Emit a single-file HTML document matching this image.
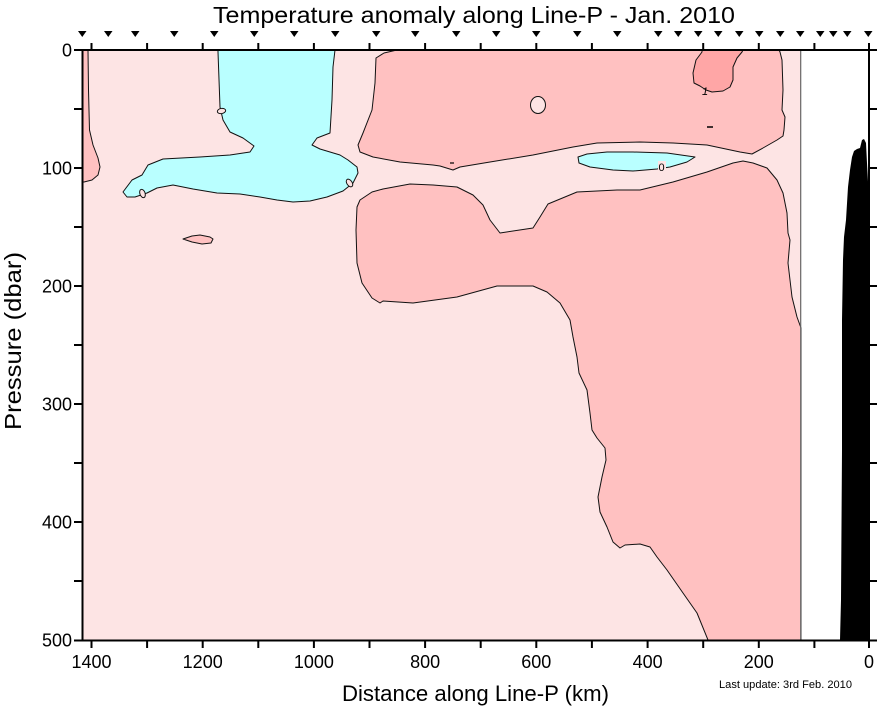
<!DOCTYPE html>
<html><head><meta charset="utf-8"><style>
html,body{margin:0;padding:0;background:#fff;}
svg{display:block;}
text{font-family:"Liberation Sans",Arial,sans-serif;fill:#000;}
</style></head><body>
<svg width="878" height="708" viewBox="0 0 878 708" xmlns="http://www.w3.org/2000/svg">
<!-- background field -->
<rect x="82" y="50" width="719" height="590" fill="#FDE4E4"/>
<rect x="801" y="50" width="68" height="590" fill="#FFFFFF"/>

<g stroke="#111" stroke-width="1" stroke-linejoin="round">
<!-- left strip -->
<polygon fill="#FFC1C1" points="82,50 88,50 88.5,90 89.5,130 93,145 98,158 100,167 98,175 92,180 84,182 82,182"/>
<!-- upper band -->
<polygon fill="#FFC1C1" points="397,50 779,50 780,52 782,60 783,90 782,110 785,117 784,130 783,136 777,140 763,148 752,154 740,152 707,145 673,143 640,142 597,143 573,147 533,155 490,162 460,167 453,170 440,166 433,165 400,162 373,157 360,152 358,145 363,133 372,110 375,83 376,58 384,53 397,50"/>
<!-- lower big region -->
<polygon fill="#FFC1C1" points="357,207 360,200 372,192 383,189 410,184 433,185 457,187 473,195 483,205 490,220 500,233 533,228 540,217 548,204 577,192 617,190 640,190 673,182 707,172 733,163 743,161 753,163 767,168 777,180 783,193 787,213 788,233 790,240 788,263 792,297 797,317 801,328 801,640 708,640 697,613 683,593 667,570 657,557 650,547 640,544 625,545 620,548 613,542 607,527 600,512 598,497 602,477 606,460 605,448 597,438 592,430 590,413 587,390 579,373 577,357 573,337 570,320 560,303 547,292 533,286 497,286 457,297 413,303 383,301 380,303 372,298 362,283 357,263 356,230"/>
<!-- small blob -->
<polygon fill="#FFC1C1" points="183,239 192,236 200,235 210,237 213,239 211,243 202,244 192,242"/>
<!-- dark pink blob -->
<polygon fill="#FFA6A6" points="702,50 702,52 696,60 693,73 694,83 700,86 706,90 712,92 723,91 730,87 733,80 733,67 737,58 742,52 743,50"/>
<!-- cyan big -->
<polygon fill="#B9FFFF" points="218,50 218,52 220,107 223,120 230,132 243,138 254,146 250,152 230,155 200,157 163,159 148,165 142,175 132,180 123,192 127,197 135,197 147,193 157,188 173,185 193,189 217,193 240,194 260,197 277,200 293,202 310,201 327,197 343,191 353,183 358,173 357,167 348,160 340,155 330,152 320,149 312,145 317,138 330,133 332,100 333,67 335,50"/>
<!-- cyan small -->
<polygon fill="#B9FFFF" points="578,157 587,154 607,152 633,152 667,153 695,157 687,162 670,167 657,169 633,171 613,170 590,167 579,163"/>
<!-- holes -->
<ellipse cx="538" cy="105" rx="7.5" ry="8.5" fill="#FDE4E4"/>
<ellipse cx="221.5" cy="111" rx="4.2" ry="2.6" fill="#FDE4E4" transform="rotate(-10 221.5 111)"/>
<ellipse cx="142.5" cy="193.5" rx="2.6" ry="4.3" fill="#FDE4E4" transform="rotate(-20 142.5 193.5)"/>
<ellipse cx="349.5" cy="183" rx="2.6" ry="4.3" fill="#FDE4E4" transform="rotate(-35 349.5 183)"/>
</g>
<!-- small dashes -->
<line x1="707" y1="127" x2="713" y2="127" stroke="#000" stroke-width="1.5"/>
<line x1="450" y1="163" x2="454" y2="163" stroke="#000" stroke-width="1.2"/>
<!-- contour labels -->
<text x="702" y="95" font-size="11" font-style="italic">1</text>
<rect x="658" y="161" width="8" height="11" fill="#FDE4E4"/>
<text x="658.5" y="171" font-size="11">0</text>

<!-- gray boundary line -->
<line x1="800.7" y1="50" x2="800.7" y2="640" stroke="#666" stroke-width="1.2"/>

<!-- bathymetry -->
<polygon fill="#000" points="840,640 841,600 842,450 842,320 843,260 844,237 846,220 848,187 850,170 852,157 854,151 857,149 860,148 862,140 864,139 866,143 867,163 869,200 869,640"/>

<!-- axes -->
<g stroke="#000" stroke-width="2" fill="none">
<line x1="82.5" y1="49" x2="82.5" y2="641"/>
<line x1="869" y1="49" x2="869" y2="641"/>
<line x1="74" y1="50" x2="877" y2="50"/>
<line x1="74" y1="640.5" x2="877" y2="640.5"/>
</g>
<g stroke="#000" stroke-width="2">
<!-- left & right ticks -->
<line x1="74" y1="109" x2="82" y2="109"/><line x1="74" y1="168" x2="82" y2="168"/>
<line x1="74" y1="227" x2="82" y2="227"/><line x1="74" y1="286" x2="82" y2="286"/>
<line x1="74" y1="345" x2="82" y2="345"/><line x1="74" y1="404" x2="82" y2="404"/>
<line x1="74" y1="463" x2="82" y2="463"/><line x1="74" y1="522" x2="82" y2="522"/>
<line x1="74" y1="581" x2="82" y2="581"/>
<line x1="869" y1="109" x2="877" y2="109"/><line x1="869" y1="168" x2="877" y2="168"/>
<line x1="869" y1="227" x2="877" y2="227"/><line x1="869" y1="286" x2="877" y2="286"/>
<line x1="869" y1="345" x2="877" y2="345"/><line x1="869" y1="404" x2="877" y2="404"/>
<line x1="869" y1="463" x2="877" y2="463"/><line x1="869" y1="522" x2="877" y2="522"/>
<line x1="869" y1="581" x2="877" y2="581"/>
<!-- top ticks -->
<line x1="91.5" y1="43" x2="91.5" y2="50"/><line x1="147.1" y1="43" x2="147.1" y2="50"/>
<line x1="202.7" y1="43" x2="202.7" y2="50"/><line x1="258.3" y1="43" x2="258.3" y2="50"/>
<line x1="313.9" y1="43" x2="313.9" y2="50"/><line x1="369.5" y1="43" x2="369.5" y2="50"/>
<line x1="425.1" y1="43" x2="425.1" y2="50"/><line x1="480.7" y1="43" x2="480.7" y2="50"/>
<line x1="536.3" y1="43" x2="536.3" y2="50"/><line x1="591.9" y1="43" x2="591.9" y2="50"/>
<line x1="647.6" y1="43" x2="647.6" y2="50"/><line x1="703.2" y1="43" x2="703.2" y2="50"/>
<line x1="758.8" y1="43" x2="758.8" y2="50"/><line x1="814.4" y1="43" x2="814.4" y2="50"/>
<line x1="869" y1="43" x2="869" y2="50"/>
<!-- bottom ticks -->
<line x1="91.5" y1="640" x2="91.5" y2="648"/><line x1="147.1" y1="640" x2="147.1" y2="648"/>
<line x1="202.7" y1="640" x2="202.7" y2="648"/><line x1="258.3" y1="640" x2="258.3" y2="648"/>
<line x1="313.9" y1="640" x2="313.9" y2="648"/><line x1="369.5" y1="640" x2="369.5" y2="648"/>
<line x1="425.1" y1="640" x2="425.1" y2="648"/><line x1="480.7" y1="640" x2="480.7" y2="648"/>
<line x1="536.3" y1="640" x2="536.3" y2="648"/><line x1="591.9" y1="640" x2="591.9" y2="648"/>
<line x1="647.6" y1="640" x2="647.6" y2="648"/><line x1="703.2" y1="640" x2="703.2" y2="648"/>
<line x1="758.8" y1="640" x2="758.8" y2="648"/><line x1="814.4" y1="640" x2="814.4" y2="648"/>
<line x1="869" y1="640" x2="869" y2="648"/>
</g>

<!-- station triangles -->
<g fill="#000">
<path d="M78,31h8.5l-4.25,6z"/><path d="M104,31h8.5l-4.25,6z"/><path d="M131,31h8.5l-4.25,6z"/>
<path d="M170,31h8.5l-4.25,6z"/><path d="M210,31h8.5l-4.25,6z"/><path d="M250,31h8.5l-4.25,6z"/>
<path d="M290,31h8.5l-4.25,6z"/><path d="M331,31h8.5l-4.25,6z"/><path d="M372,31h8.5l-4.25,6z"/>
<path d="M411,31h8.5l-4.25,6z"/><path d="M452,31h8.5l-4.25,6z"/><path d="M492,31h8.5l-4.25,6z"/>
<path d="M532,31h8.5l-4.25,6z"/><path d="M573,31h8.5l-4.25,6z"/><path d="M613,31h8.5l-4.25,6z"/>
<path d="M654,31h8.5l-4.25,6z"/><path d="M674,31h8.5l-4.25,6z"/><path d="M694,31h8.5l-4.25,6z"/>
<path d="M714,31h8.5l-4.25,6z"/><path d="M735,31h8.5l-4.25,6z"/><path d="M755,31h8.5l-4.25,6z"/>
<path d="M776,31h8.5l-4.25,6z"/><path d="M796,31h8.5l-4.25,6z"/><path d="M816,31h8.5l-4.25,6z"/>
<path d="M829,31h8.5l-4.25,6z"/><path d="M843,31h8.5l-4.25,6z"/><path d="M864,31h8.5l-4.25,6z"/>
</g>

<!-- title -->
<text x="213" y="23" font-size="23" textLength="522" lengthAdjust="spacingAndGlyphs">Temperature anomaly along Line-P - Jan. 2010</text>

<!-- y tick labels -->
<g font-size="18" text-anchor="end">
<text x="72" y="56.5">0</text>
<text x="72" y="174.5">100</text>
<text x="72" y="292.5">200</text>
<text x="72" y="410.5">300</text>
<text x="72" y="528.5">400</text>
<text x="72" y="646.5">500</text>
</g>
<!-- x tick labels -->
<g font-size="18" text-anchor="middle">
<text x="91.5" y="668">1400</text>
<text x="202.7" y="668">1200</text>
<text x="313.9" y="668">1000</text>
<text x="425.1" y="668">800</text>
<text x="536.3" y="668">600</text>
<text x="647.6" y="668">400</text>
<text x="758.8" y="668">200</text>
<text x="869" y="668">0</text>
</g>

<text x="342" y="701" font-size="22" textLength="267" lengthAdjust="spacingAndGlyphs">Distance along Line-P (km)</text>
<text x="21" y="341" font-size="23" text-anchor="middle" transform="rotate(-90 21 341)" textLength="178" lengthAdjust="spacingAndGlyphs">Pressure (dbar)</text>
<text x="719" y="688" font-size="11" textLength="133" lengthAdjust="spacingAndGlyphs">Last update: 3rd Feb. 2010</text>
</svg>
</body></html>
